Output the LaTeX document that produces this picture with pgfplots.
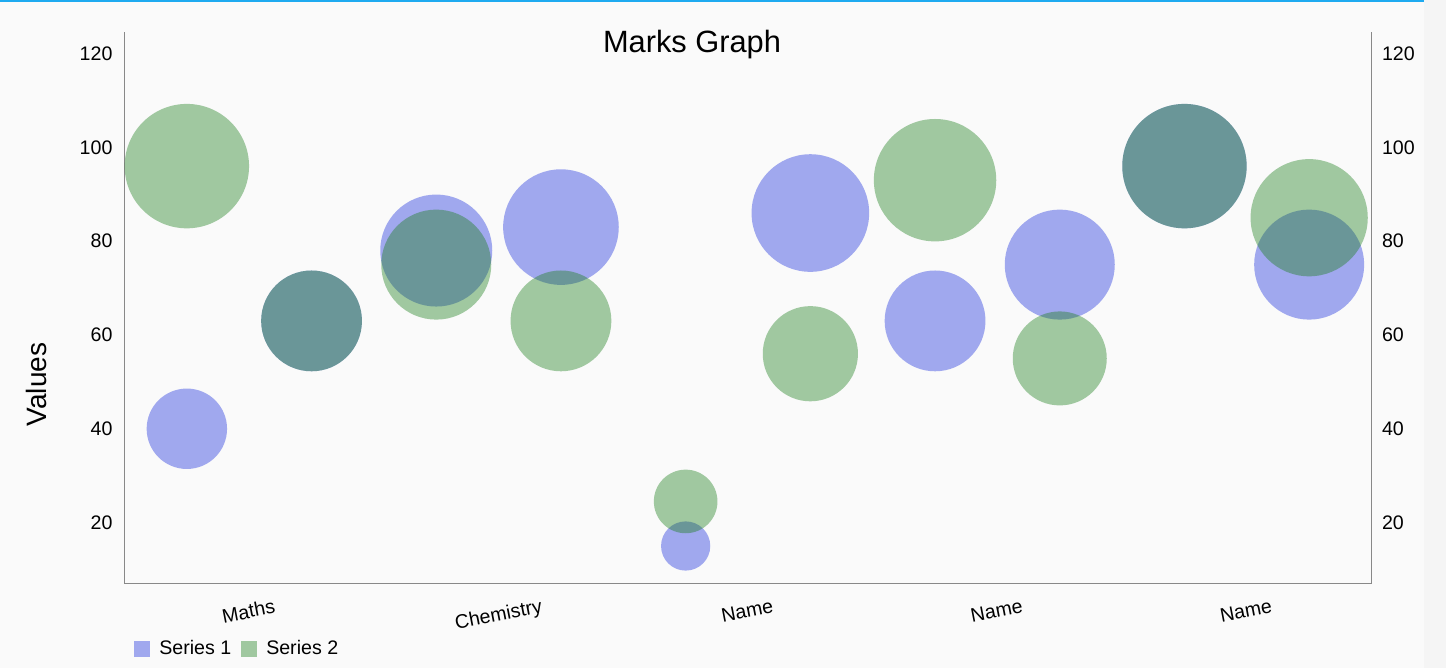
\documentclass[border=0pt]{standalone}
\usepackage{pgfplots}
\pgfplotsset{compat=1.18}
\usepackage{pgfplotstable}
\usepackage{fontspec}
\setmainfont{Liberation Sans}
\definecolor{bgc}{RGB}{250,250,250}
\definecolor{sidec}{RGB}{245,245,245}
\definecolor{topline}{RGB}{30,170,240}
\definecolor{sA}{RGB}{25,45,220}
\definecolor{sB}{RGB}{25,125,25}
\definecolor{axc}{RGB}{136,136,136}

% x = category index, y = value, r = bubble radius (pt)
\pgfplotstableread{
x y r
0 40 20.1
1 63 25.2
2 78 28.0
3 83 28.9
4 15 12.3
5 86 29.4
6 63 25.2
7 75 27.5
8 96 31.1
9 75 27.5
}\seriesA
\pgfplotstableread{
x y r
0 96 31.1
1 63 25.2
2 75 27.5
3 63 25.2
4 24.5 15.9
5 56 23.8
6 93 30.6
7 55 23.5
8 96 31.1
9 85 29.3
}\seriesB

\begin{document}
\begin{tikzpicture}
\useasboundingbox (0,0) rectangle (723pt,334pt);
\fill[bgc] (0,0) rectangle (723pt,334pt);
\fill[sidec] (712pt,0) rectangle (723pt,334pt);
\fill[topline] (0,333pt) rectangle (712pt,334pt);
\pgfplotsset{
  common/.style={
    at={(62.25pt,42pt)}, anchor=south west, scale only axis,
    width=623.5pt, height=276pt,
    xmin=-0.5, xmax=9.5, ymin=6.9, ymax=124.6,
    ytick={20,40,60,80,100,120},
    major tick length=0pt,
    axis line style={draw=axc, line width=0.5pt, -},
    tick label style={font=\fontsize{9.8}{11}\selectfont},
    /pgf/number format/assume math mode=true,
    clip=false,
  }
}
\begin{axis}[common,
  axis x line*=bottom, axis y line*=left,
  yticklabel style={xshift=-2.5pt},
  xtick={0.5,4.5,6.5,8.5},
  xticklabels={Maths,Name,Name,Name},
  xticklabel style={rotate=11, anchor=center, yshift=-13.25pt, xshift=-3pt},
  extra x ticks={2.5},
  extra x tick labels={Chemistry},
  extra x tick style={xticklabel style={yshift=-2.5pt}},
  title={Marks Graph},
  title style={at={(rel axis cs:0.4551,0.9632)}, anchor=base, yshift=-6pt,
    font=\fontsize{15.4}{18}\selectfont, inner sep=0pt},
  ylabel={Values},
  every axis y label/.style={at={(rel axis cs:-0.0702,0.3614)}, rotate=90, anchor=center, font=\fontsize{14}{16}\selectfont},
  legend columns=2,
  legend style={draw=none, fill=none, at={(rel axis cs:0.0076,-0.1178)}, anchor=west,
    font=\fontsize{9.8}{11}\selectfont, inner sep=0pt,
    /tikz/every even column/.append style={column sep=3pt}},
]
\addplot[scatter, only marks, mark=*,
  mark options={draw opacity=0, fill=sA, fill opacity=0.4},
  scatter/use mapped color={draw opacity=0, fill=sA},
  visualization depends on={\thisrow{r} \as \rad},
  scatter/@pre marker code/.append style={/tikz/mark size=\rad},
  legend image code/.code={\fill[draw=none, fill=sA, fill opacity=0.4] (0pt,-4pt) rectangle (8pt,4pt); \path[draw=none, fill=none] (0pt,0pt) rectangle (10.5pt,0.1pt);}
] table[x=x, y=y] {\seriesA};
\addlegendentry{Series 1}
\addplot[scatter, only marks, mark=*,
  mark options={draw opacity=0, fill=sB, fill opacity=0.4},
  scatter/use mapped color={draw opacity=0, fill=sB},
  visualization depends on={\thisrow{r} \as \rad},
  scatter/@pre marker code/.append style={/tikz/mark size=\rad},
  legend image code/.code={\fill[draw=none, fill=sB, fill opacity=0.4] (0pt,-4pt) rectangle (8pt,4pt); \path[draw=none, fill=none] (0pt,0pt) rectangle (10.5pt,0.1pt);}
] table[x=x, y=y] {\seriesB};
\addlegendentry{Series 2}
\end{axis}
\begin{axis}[common,
  axis x line=none, axis y line*=right,
  yticklabel style={xshift=1.7pt},
]
\end{axis}
\end{tikzpicture}
\end{document}
